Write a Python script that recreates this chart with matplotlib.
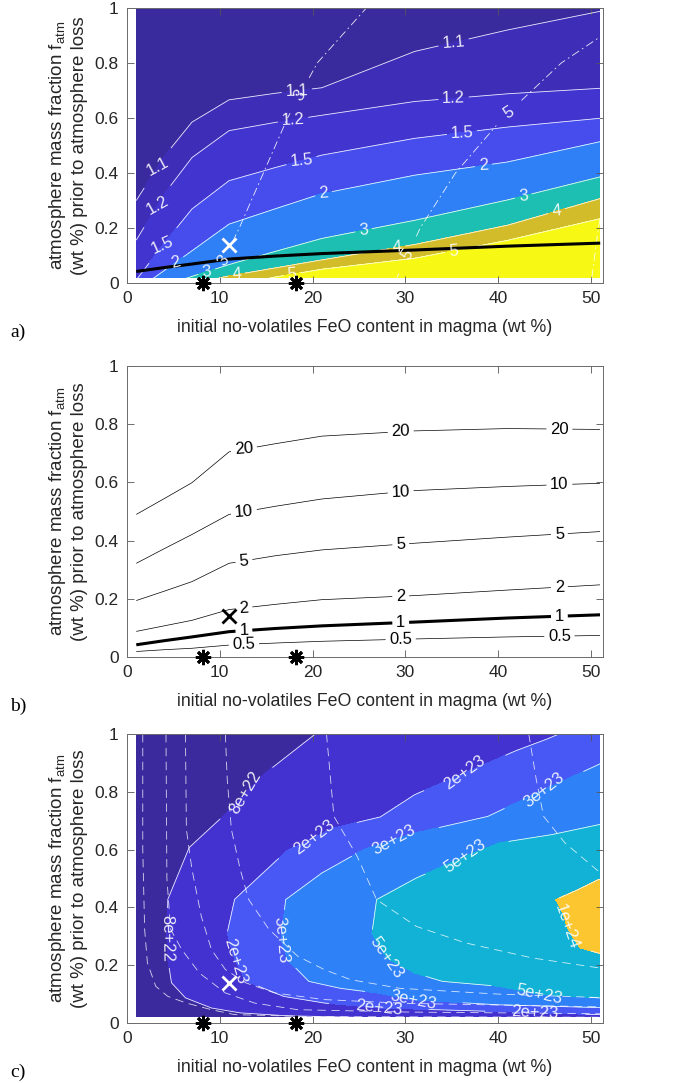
import numpy as np
import matplotlib
matplotlib.use("Agg")
import matplotlib.pyplot as plt
from matplotlib.patches import Rectangle

plt.rcParams['font.family'] = ['Liberation Sans', 'DejaVu Sans']
plt.rcParams['mathtext.fontset'] = 'custom'
plt.rcParams['mathtext.rm'] = 'Liberation Sans'
plt.rcParams['mathtext.it'] = 'Liberation Sans:italic'
plt.rcParams['lines.scale_dashes'] = False

# ------------------------------------------------------------------ data
feo_nodes = [1, 4, 7, 11, 16, 21, 31, 41, 51]      # FeO (wt %) grid nodes

# (a) filled contours: f_atm position of each level at feo_nodes
ratio_levels = [1.1, 1.2, 1.5, 2, 3, 4, 5]
ratio_fatm = [
    [0.300, 0.460, 0.585, 0.666, 0.690, 0.710, 0.842, 0.920, 0.988],
    [0.156, 0.323, 0.456, 0.554, 0.584, 0.610, 0.660, 0.688, 0.708],
    [0.011, 0.144, 0.269, 0.372, 0.420, 0.465, 0.526, 0.567, 0.599],
    [-0.027, 0.045, 0.117, 0.214, 0.270, 0.325, 0.392, 0.440, 0.514],
    [-0.042, -0.009, 0.024, 0.067, 0.115, 0.162, 0.228, 0.302, 0.386],
    [-0.080, -0.045, -0.003, 0.026, 0.055, 0.084, 0.140, 0.210, 0.307],
    [-0.130, -0.090, -0.050, -0.012, 0.022, 0.050, 0.090, 0.155, 0.234],
]

# (a) dash-dot contours: FeO position of each level at fatm_nodes
fatm_nodes = [0.02, 0.2, 0.4, 0.6, 0.8, 1.0]
dd_levels = [3, 5, 7]
dd_feo = [
    [9.5, 12.1, 14.7, 17.3, 20.5, 25.8],
    [29.1, 31.6, 35.4, 40.5, 46.8, 55.6],
    [50.1, 50.8, 51.9, 54.0, 57.0, 61.0],
]

# (b) line contours: f_atm position of each level at feo_nodes
mass_levels = [0.5, 1, 2, 5, 10, 20]
mass_fatm = [
    [0.019, 0.025, 0.030, 0.041, 0.048, 0.054, 0.062, 0.069, 0.074],
    [0.042, 0.056, 0.069, 0.087, 0.098, 0.107, 0.120, 0.134, 0.145],
    [0.088, 0.107, 0.126, 0.163, 0.181, 0.197, 0.211, 0.230, 0.248],
    [0.194, 0.226, 0.259, 0.322, 0.348, 0.368, 0.391, 0.412, 0.431],
    [0.322, 0.372, 0.421, 0.490, 0.518, 0.543, 0.572, 0.586, 0.597],
    [0.490, 0.544, 0.599, 0.705, 0.733, 0.759, 0.777, 0.785, 0.782],
]

# (c) filled contours traced as curves (FeO, f_atm)
flux_levels = [8e22, 2e23, 3e23, 5e23, 1e24]
flux_labels = ['8e+22', '2e+23', '3e+23', '5e+23', '1e+24']
flux_feo = [
    [24.3, 20.3, 15.0, 12.8, 10.5, 6.7, 4.4, 4.3, 4.4, 4.8, 6.3, 9.1, 12.2, 17.2, 30.0, 60.0],
    [51.0, 45.3, 41.9, 36.4, 31.0, 27.3, 22.3, 17.2, 11.6, 10.8, 11.6, 12.8, 16.9, 21.3, 27.2, 60.0],
    [56.0, 50.8, 44.9, 38.9, 31.0, 25.5, 21.0, 17.1, 16.6, 17.3, 19.6, 23.0, 26.9, 30.8, 40.0, 60.0],
    [60.0, 50.8, 45.8, 40.1, 36.5, 31.2, 26.9, 26.4, 28.0, 31.0, 34.0, 40.1, 44.4, 50.8, 55.0, 60.0],
    [60.0, 55.0, 50.8, 48.5, 46.2, 47.0, 47.4, 48.0, 48.8, 50.8, 53.0, 55.0, 57.0, 58.0, 59.0, 60.0],
]
flux_fatm = [
    [1.10, 1.00, 0.867, 0.796, 0.720, 0.607, 0.428, 0.300, 0.220, 0.139, 0.087, 0.052, 0.035, 0.025, 0.016, 0.008],
    [1.06, 0.983, 0.942, 0.865, 0.790, 0.713, 0.675, 0.595, 0.428, 0.312, 0.220, 0.145, 0.092, 0.069, 0.052, 0.020],
    [0.98, 0.894, 0.807, 0.715, 0.657, 0.600, 0.519, 0.427, 0.288, 0.219, 0.144, 0.120, 0.104, 0.080, 0.063, 0.045],
    [0.72, 0.686, 0.652, 0.623, 0.577, 0.502, 0.427, 0.311, 0.225, 0.173, 0.144, 0.127, 0.100, 0.087, 0.080, 0.075],
    [0.55, 0.52, 0.496, 0.460, 0.427, 0.380, 0.334, 0.300, 0.260, 0.242, 0.235, 0.230, 0.225, 0.220, 0.215, 0.210],
]

# (c) dashed contours (FeO, f_atm)
dash_feo = [
    [1.7, 1.7, 1.9, 2.2, 3.1, 4.4, 6.4, 9.1, 11.6, 20.0, 51.0],
    [4.2, 4.3, 4.7, 5.9, 7.8, 10.6, 13.75, 18.4, 30.0, 51.0],
    [6.3, 6.4, 7.0, 8.0, 9.1, 10.6, 12.8, 15.9, 21.25, 30.0, 51.0],
    [10.6, 10.8, 11.25, 12.2, 13.1, 15.3, 18.4, 21.25, 24.1, 29.4, 40.0, 51.0],
    [21.5, 22.3, 24.8, 26.9, 31.2, 36.5, 43.7, 51.0],
    [43.3, 44.1, 44.9, 47.2, 51.0],
]
dash_fatm = [
    [1.0, 0.6, 0.324, 0.208, 0.127, 0.092, 0.069, 0.046, 0.029, 0.022, 0.020],
    [1.0, 0.5, 0.324, 0.254, 0.173, 0.104, 0.069, 0.046, 0.038, 0.032],
    [1.0, 0.67, 0.532, 0.37, 0.254, 0.185, 0.139, 0.104, 0.081, 0.068, 0.056],
    [1.0, 0.844, 0.67, 0.532, 0.428, 0.324, 0.231, 0.185, 0.15, 0.12, 0.10, 0.088],
    [1.0, 0.715, 0.577, 0.427, 0.334, 0.277, 0.225, 0.19],
    [1.0, 0.844, 0.715, 0.623, 0.52],
]

# markers
star_feo = [8.2, 18.2]
star_fatm = [0.0, 0.0]
cross_feo = [11.0]
cross_fatm = [0.14]

# ------------------------------------------------------------------ style
a_base = '#392a9e'
a_bands = ['#3e2db6', '#4234cf', '#474ded', '#2f7ff6', '#1cbfb1', '#d3bc2a', '#f8f815']
c_base = '#3a2a9e'
c_bands = ['#4332cf', '#4858f4', '#2e81f7', '#11b2d5', '#fbc630']

W, H = 694, 1083
fig = plt.figure(figsize=(W / 100, H / 100), dpi=100)


def add_ax(top, bottom, left=127, right=603):
    return fig.add_axes([left / W, 1 - bottom / H, (right - left) / W, (bottom - top) / H])


def build_grid(xrows, yrows, values, extra, shift):
    X = np.array([list(r) for r in xrows] + [[v + shift[0] for v in xrows[-1]]], float)
    Y = np.array([list(r) for r in yrows] + [[v + shift[1] for v in yrows[-1]]], float)
    Z = np.repeat(np.array(list(values) + [extra], float)[:, None], X.shape[1], axis=1)
    return X, Y, Z


def nudge(vals):
    return [v * (1 + 1e-6) for v in vals]


def style_axes(ax, top, bottom, letter):
    ax.set_xlim(0, 51.3)
    ax.set_ylim(0, 1)
    ax.set_xticks([0, 10, 20, 30, 40, 50])
    ax.set_yticks([0, 0.2, 0.4, 0.6, 0.8, 1.0])
    ax.set_yticklabels(['0', '0.2', '0.4', '0.6', '0.8', '1'])
    ax.tick_params(direction='in', top=True, right=True, length=5, width=0.6,
                   color='#555555', labelsize=12.5, labelcolor='#262626', pad=6)
    for s in ax.spines.values():
        s.set_color('#6b6b6b')
        s.set_linewidth(0.7)
    yc = 1 - (top + bottom) / 2 / H
    fig.text(57 / W, yc, r'atmosphere mass fraction f$_{\rm atm}$', rotation=90,
             ha='center', va='center', fontsize=13.5, color='#262626')
    fig.text(80 / W, yc, '(wt %) prior to atmosphere loss', rotation=90,
             ha='center', va='center', fontsize=13.5, color='#262626')
    fig.text(365 / W, 1 - (bottom + 44) / H,
             'initial no-volatiles FeO content in magma (wt %)',
             ha='center', va='center', fontsize=12.8, color='#262626')
    fig.text(10 / W, 1 - (bottom + 49) / H, letter, ha='left', va='center',
             fontsize=14, family='Liberation Serif')


def markers(ax, xcolor):
    ax.plot(star_feo, star_fatm, ls='none', marker=(8, 2, 0), ms=11, mew=2,
            color='k', clip_on=False, zorder=10)
    ax.plot(cross_feo, cross_fatm, ls='none', marker='x', ms=10, mew=2,
            color=xcolor, clip_on=False, zorder=10)


Xb, Yb, Zb = build_grid([feo_nodes] * len(mass_levels), mass_fatm, mass_levels, 40, (0, 1.5))

# ------------------------------------------------------------------ panel a
ax = add_ax(8, 283)
clip = Rectangle((1, 0.02), 50, 0.98, transform=ax.transData)
ax.add_patch(Rectangle((1, 0.02), 50, 0.98, color=a_base, zorder=0, lw=0))
Xa, Ya, Za = build_grid([feo_nodes] * len(ratio_levels), ratio_fatm, ratio_levels, 8, (0, -1.5))
lv = nudge(ratio_levels)
cf = ax.contourf(Xa, Ya, Za, levels=lv + [9], colors=a_bands, zorder=1)
cf.set_clip_path(clip)
cl = ax.contour(Xa, Ya, Za, levels=lv, colors='white', linewidths=0.6, alpha=0.9, zorder=2)
cl.set_clip_path(clip)
a_lab = [(3.2, 0.435), (18.3, 0.702), (35.2, 0.872),
         (3.2, 0.289), (17.9, 0.593), (35.2, 0.672),
         (3.8, 0.149), (18.8, 0.441), (36.1, 0.544),
         (5.2, 0.07), (21.2, 0.326), (38.4, 0.429),
         (8.6, 0.04), (25.5, 0.192), (42.7, 0.326),
         (11.8, 0.028), (29.1, 0.131), (46.3, 0.265),
         (17.8, 0.034), (35.2, 0.107)]
ax.clabel(cl, manual=a_lab, fmt={l: f'{v:g}' for l, v in zip(lv, ratio_levels)},
          inline=True, fontsize=12, colors='white', inline_spacing=4)

Xd, Yd, Zd = build_grid(dd_feo, [fatm_nodes] * len(dd_levels), dd_levels, 9, (30, 0))
lvd = nudge(dd_levels)
cd = ax.contour(Xd, Yd, Zd, levels=lvd, colors='white', linewidths=0.6, alpha=0.9, zorder=2)
cd.set_linestyle((0, (6, 2.5, 1.2, 2.5)))
cd.set_clip_path(clip)
ax.clabel(cd, manual=[(18.7, 0.678), (10.4, 0.083), (41.1, 0.623), (30.3, 0.10)],
          fmt={l: f'{v:g}' for l, v in zip(lvd, dd_levels)},
          inline=True, fontsize=12, colors='white', inline_spacing=4)

ck = ax.contour(Xb, Yb, Zb, levels=nudge([1]), colors='k', linewidths=2.2, zorder=3)
markers(ax, 'white')
style_axes(ax, 8, 283, 'a)')

# ------------------------------------------------------------------ panel b
ax = add_ax(366, 657)
clipb = Rectangle((1, 0), 50, 1, transform=ax.transData)
lvb = nudge(mass_levels)
lw = [2.2 if v == 1 else 0.5 for v in mass_levels]
cb = ax.contour(Xb, Yb, Zb, levels=lvb, colors='k', linewidths=lw, zorder=2)
cb.set_clip_path(clipb)
b_lab = []
for xpos, ys in zip([12.6, 29.5, 46.6], [[0.713, 0.5, 0.334, 0.171, 0.088, 0.039],
                                         [0.774, 0.562, 0.393, 0.21, 0.117, 0.059],
                                         [0.78, 0.591, 0.427, 0.24, 0.139, 0.071]]):
    for yv in ys:
        b_lab.append((xpos, yv))
ax.clabel(cb, manual=b_lab, fmt={l: f'{v:g}' for l, v in zip(lvb, mass_levels)},
          inline=True, fontsize=12, colors='k', inline_spacing=4)
markers(ax, 'k')
style_axes(ax, 366, 657, 'b)')

# ------------------------------------------------------------------ panel c
ax = add_ax(734, 1023)
clipc = Rectangle((1, 0.02), 50, 0.98, transform=ax.transData)
ax.add_patch(Rectangle((1, 0.02), 50, 0.98, color=c_base, zorder=0, lw=0))
Xc, Yc, Zc = build_grid(flux_feo, flux_fatm, flux_levels, 2e24, (30, 0))
lvc = nudge(flux_levels)
cfc = ax.contourf(Xc, Yc, Zc, levels=lvc + [3e24], colors=c_bands, zorder=1)
cfc.set_clip_path(clipc)
for xs, ys in zip(dash_feo, dash_fatm):
    ln, = ax.plot(xs, ys, color='white', lw=0.6, alpha=0.8, dashes=(6, 4), zorder=2)
    ln.set_clip_path(clipc)
clc = ax.contour(Xc, Yc, Zc, levels=lvc, colors='white', linewidths=0.6, alpha=0.9, zorder=2)
clc.set_clip_path(clipc)
c_lab = [(12.8, 0.796), (4.3, 0.294),
         (20.5, 0.634), (36.4, 0.865), (11.4, 0.213), (27.1, 0.052), (44.0, 0.034),
         (28.7, 0.634), (44.9, 0.807), (16.6, 0.288), (30.8, 0.078),
         (36.5, 0.577), (28.0, 0.225), (44.4, 0.098),
         (47.4, 0.334)]
ax.clabel(clc, manual=c_lab, fmt={l: t for l, t in zip(lvc, flux_labels)},
          inline=True, fontsize=12, colors='white', inline_spacing=4)
markers(ax, 'white')
style_axes(ax, 734, 1023, 'c)')

fig.savefig('out.png', dpi=100)
